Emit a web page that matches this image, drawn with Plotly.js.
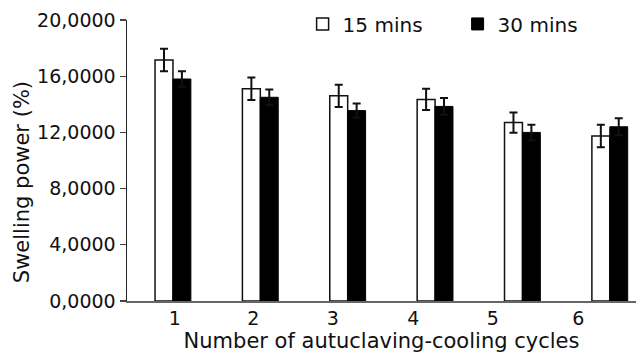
<!DOCTYPE html>
<html><head><meta charset="utf-8">
<script src="https://cdn.plot.ly/plotly-3.0.1.min.js"></script>
<style>html,body{margin:0;padding:0;background:#fff}#c{width:636px;height:354px}</style>
</head><body><div id="c"></div>
<script>
const cycles = [1, 2, 3, 4, 5, 6];
const tickPositions = [1.02, 1.92, 2.83, 3.75, 4.66, 5.64];
const tickLabels = ['1', '2', '3', '4', '5', '6'];
const mins15 = [17.15, 15.1, 14.6, 14.35, 12.7, 11.75];
const mins15Err = [0.8, 0.8, 0.8, 0.75, 0.72, 0.8];
const mins30 = [15.8, 14.5, 13.55, 13.85, 12.0, 12.4];
const mins30Err = [0.55, 0.55, 0.5, 0.6, 0.55, 0.6];
const yTickVals = [0, 4, 8, 12, 16, 20];
const yTickText = ['0,0000', '4,0000', '8,0000', '12,0000', '16,0000', '20,0000'];
const xTitle = 'Number of autuclaving-cooling cycles';
const yTitle = 'Swelling power (%)';

const fam = 'DejaVu Sans, Liberation Sans, sans-serif';
const tickFont = {family: fam, size: 19, color: '#111'};
const titleFont = {family: fam, size: 21, color: '#111'};
const legendFont = {family: fam, size: 20, color: '#111'};
const data = [
  {type: 'bar', name: '15 mins', x: cycles, y: mins15,
   marker: {color: '#fff', line: {color: '#111', width: 1.5}},
   error_y: {type: 'data', array: mins15Err, color: '#111', thickness: 2, width: 4}},
  {type: 'bar', name: '30 mins', x: cycles, y: mins30,
   marker: {color: '#000', line: {color: '#000', width: 1}},
   error_y: {type: 'data', array: mins30Err, color: '#111', thickness: 2, width: 4}}
];
const layout = {
  width: 636, height: 354,
  margin: {l: 127, r: 0, t: 20, b: 53, autoexpand: false},
  paper_bgcolor: '#fff', plot_bgcolor: '#fff',
  font: tickFont,
  barmode: 'group', bargap: 0.59, bargroupgap: 0,
  showlegend: true,
  legend: {orientation: 'h', x: 0.345, y: 0.986, xanchor: 'left', yanchor: 'middle',
           entrywidth: 110, font: legendFont, bgcolor: 'rgba(0,0,0,0)', itemwidth: 30},
  xaxis: {range: [0.474, 6.3], tickmode: 'array', tickvals: tickPositions, ticktext: tickLabels,
          showgrid: false, zeroline: false, showline: true, linecolor: '#666', linewidth: 1.5,
          ticks: '', tickfont: tickFont, automargin: false,
          title: {text: xTitle, font: titleFont, standoff: 1}},
  yaxis: {range: [0, 20], tickmode: 'array', tickvals: yTickVals, ticktext: yTickText,
          showgrid: false, zeroline: false, showline: true, linecolor: '#222', linewidth: 1.5,
          ticks: 'outside', ticklen: 6, tickwidth: 1.2, tickcolor: '#444', tickfont: tickFont, automargin: false},
  annotations: [{text: yTitle, xref: 'paper', yref: 'paper', x: -0.206, y: 0.4235,
                 xanchor: 'center', yanchor: 'middle', textangle: -90, showarrow: false, font: titleFont}]
};
Plotly.newPlot('c', data, layout, {displayModeBar: false, staticPlot: true});
</script></body></html>
